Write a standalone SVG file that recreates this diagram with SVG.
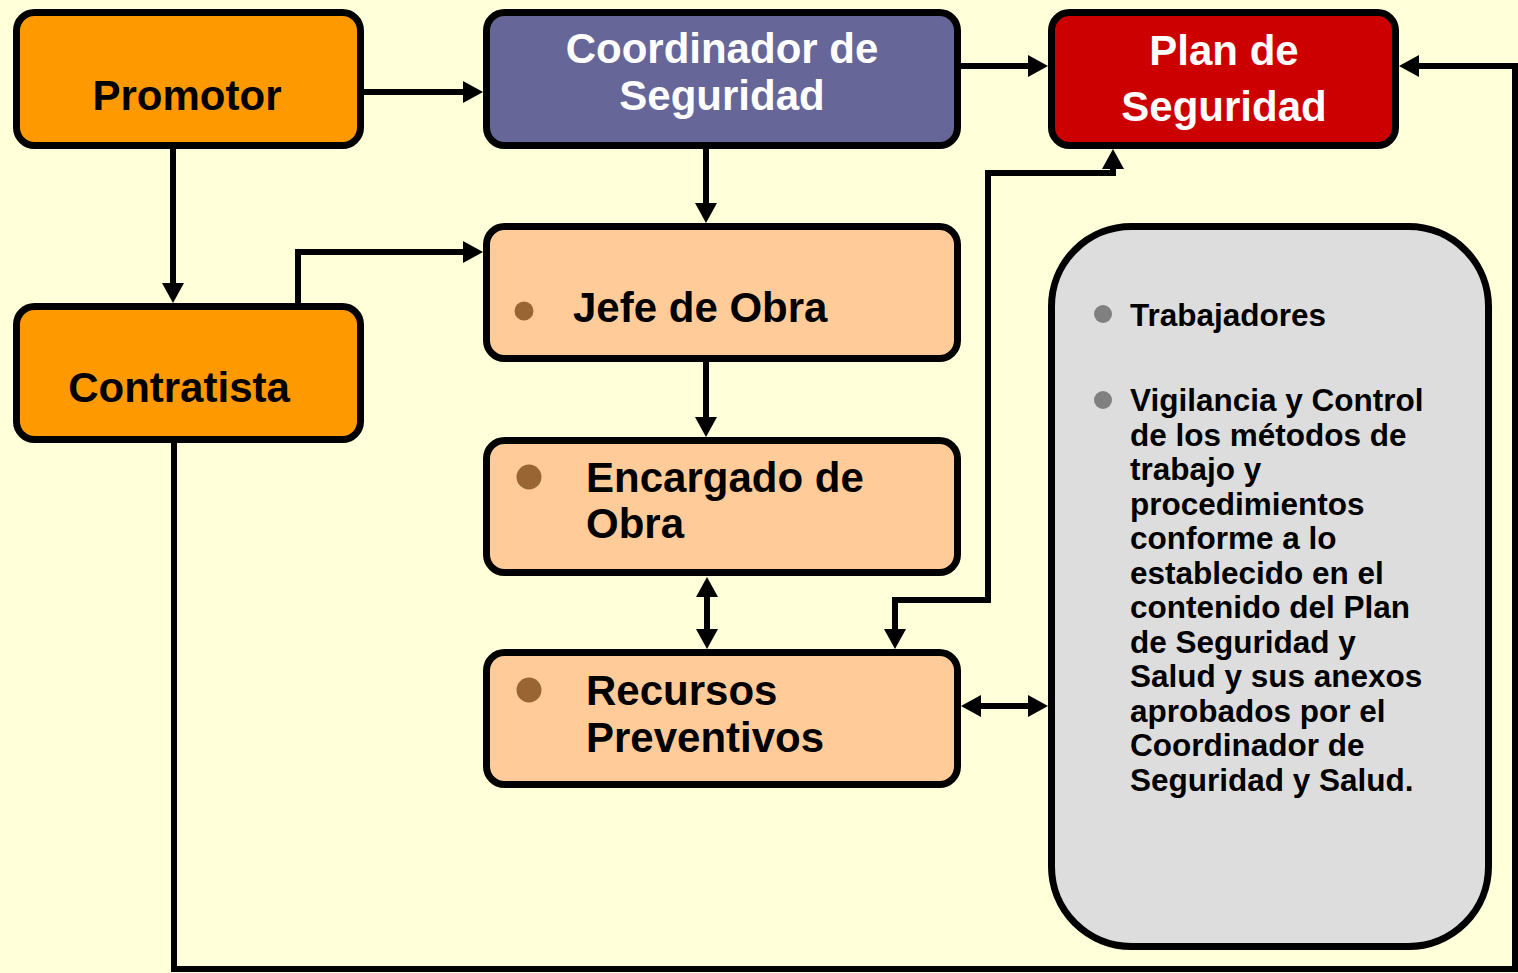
<svg xmlns="http://www.w3.org/2000/svg" width="1518" height="973" viewBox="0 0 1518 973">
<style>
.box{stroke:#000;stroke-width:7}
.t{font-family:"Liberation Sans",Arial,sans-serif;font-weight:bold;font-size:42px}
.s{font-family:"Liberation Sans",Arial,sans-serif;font-weight:bold;font-size:31.5px;fill:#000}
.c{fill:none;stroke:#000;stroke-width:6}
</style>
<defs>
<marker id="ah" viewBox="0 0 20 22" refX="0" refY="11" markerWidth="20" markerHeight="22" markerUnits="userSpaceOnUse" orient="auto-start-reverse">
<path d="M0,0 L20,11 L0,22 Z" fill="#000"/>
</marker>
</defs>
<rect width="1518" height="973" fill="#FFFFDA"/>
<g id="connectors">
<path class="c" d="M364,92 L463,92" marker-end="url(#ah)"/>
<path class="c" d="M173,149 L173,283" marker-end="url(#ah)"/>
<path class="c" d="M298,303 L298,252 L463,252" marker-end="url(#ah)"/>
<path class="c" d="M706,149 L706,203" marker-end="url(#ah)"/>
<path class="c" d="M706,362 L706,417" marker-end="url(#ah)"/>
<path class="c" d="M707,597 L707,629" marker-start="url(#ah)" marker-end="url(#ah)"/>
<path class="c" d="M961,66 L1028,66" marker-end="url(#ah)"/>
<path class="c" d="M174,443 L174,969 L1515,969 L1515,66 L1419,66" marker-end="url(#ah)"/>
<path class="c" d="M895,629 L895,600 L988,600 L988,173 L1113,173 L1113,169" marker-start="url(#ah)" marker-end="url(#ah)"/>
<path class="c" d="M981,706 L1028,706" marker-start="url(#ah)" marker-end="url(#ah)"/>
</g>
<g id="promotor">
<rect class="box" x="16.5" y="12.5" width="344" height="133" rx="18" fill="#FF9900"/>
<text class="t" x="187" y="110" text-anchor="middle" fill="#000">Promotor</text>
</g>
<g id="coordinador">
<rect class="box" x="486.5" y="12.5" width="471" height="133" rx="18" fill="#666699"/>
<text class="t" x="722" y="63" text-anchor="middle" fill="#fff">Coordinador de</text>
<text class="t" x="722" y="110" text-anchor="middle" fill="#fff">Seguridad</text>
</g>
<g id="plan">
<rect class="box" x="1051.5" y="12.5" width="344" height="133" rx="18" fill="#CC0000"/>
<text class="t" x="1224" y="65" text-anchor="middle" fill="#fff">Plan de</text>
<text class="t" x="1224" y="121" text-anchor="middle" fill="#fff">Seguridad</text>
</g>
<g id="contratista">
<rect class="box" x="16.5" y="306.5" width="344" height="133" rx="18" fill="#FF9900"/>
<text class="t" x="179" y="402" text-anchor="middle" fill="#000">Contratista</text>
</g>
<g id="jefe">
<rect class="box" x="486.5" y="226.5" width="471" height="132" rx="18" fill="#FFCC99"/>
<circle cx="524" cy="311" r="9.5" fill="#996633"/>
<text class="t" x="573" y="322" fill="#000">Jefe de Obra</text>
</g>
<g id="encargado">
<rect class="box" x="486.5" y="440.5" width="471" height="132" rx="18" fill="#FFCC99"/>
<circle cx="529" cy="477" r="12.5" fill="#996633"/>
<text class="t" x="586" y="492" fill="#000">Encargado de</text>
<text class="t" x="586" y="538" fill="#000">Obra</text>
</g>
<g id="recursos">
<rect class="box" x="486.5" y="652.5" width="471" height="132" rx="18" fill="#FFCC99"/>
<circle cx="529" cy="690" r="12.5" fill="#996633"/>
<text class="t" x="586" y="705" fill="#000">Recursos</text>
<text class="t" x="586" y="752" fill="#000">Preventivos</text>
</g>
<g id="trabajadores">
<rect class="box" x="1051.5" y="226.5" width="437" height="720" rx="80" ry="80" fill="#DDDDDD"/>
<circle cx="1103" cy="314" r="9" fill="#808080"/>
<circle cx="1103" cy="400" r="9" fill="#808080"/>
<text class="s" x="1130" y="326">Trabajadores</text>
<text class="s" x="1130" y="411">Vigilancia y Control</text>
<text class="s" x="1130" y="445.5">de los métodos de</text>
<text class="s" x="1130" y="480">trabajo y</text>
<text class="s" x="1130" y="514.5">procedimientos</text>
<text class="s" x="1130" y="549">conforme a lo</text>
<text class="s" x="1130" y="583.5">establecido en el</text>
<text class="s" x="1130" y="618">contenido del Plan</text>
<text class="s" x="1130" y="652.5">de Seguridad y</text>
<text class="s" x="1130" y="687">Salud y sus anexos</text>
<text class="s" x="1130" y="721.5">aprobados por el</text>
<text class="s" x="1130" y="756">Coordinador de</text>
<text class="s" x="1130" y="790.5">Seguridad y Salud.</text>
</g>
</svg>
